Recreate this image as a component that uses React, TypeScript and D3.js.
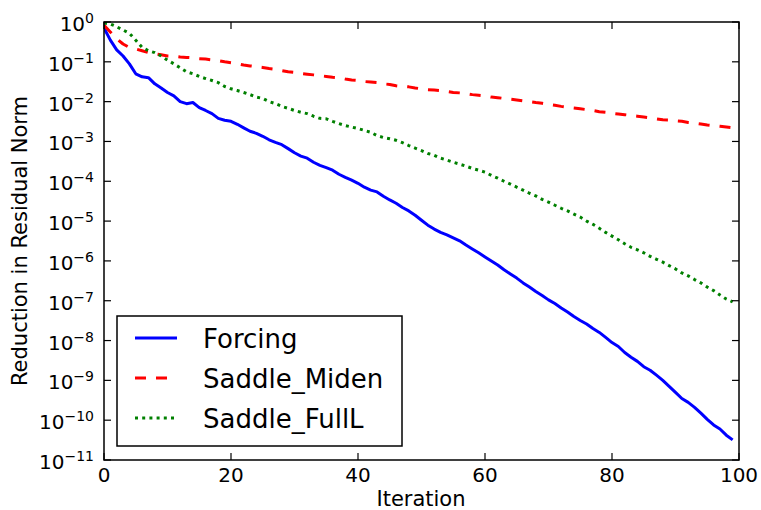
import React from "react";
import * as d3 from "d3";

const iterations: number[] = Array.from({ length: 100 }, (_, i) => i);

const forcing: number[] = [
  7.1e-1, 3.5e-1, 2.0e-1, 1.4e-1, 8.9e-2, 5.0e-2, 4.2e-2, 4.0e-2, 2.8e-2, 2.2e-2,
  1.7e-2, 1.4e-2, 1.0e-2, 8.9e-3, 9.5e-3, 7.1e-3, 6.0e-3, 5.0e-3, 3.8e-3, 3.4e-3,
  3.2e-3, 2.7e-3, 2.2e-3, 1.8e-3, 1.6e-3, 1.35e-3, 1.1e-3, 9.5e-4, 8.3e-4, 6.6e-4,
  5.2e-4, 4.3e-4, 3.8e-4, 3.0e-4, 2.5e-4, 2.2e-4, 1.9e-4, 1.5e-4, 1.26e-4, 1.07e-4,
  8.9e-5, 7.1e-5, 6.0e-5, 5.4e-5, 4.2e-5, 3.4e-5, 2.8e-5, 2.2e-5, 1.8e-5, 1.4e-5,
  1.05e-5, 7.9e-6, 6.3e-6, 5.2e-6, 4.5e-6, 3.8e-6, 3.2e-6, 2.5e-6, 2.0e-6, 1.6e-6,
  1.26e-6, 1.0e-6, 7.9e-7, 6.0e-7, 4.7e-7, 3.7e-7, 2.8e-7, 2.2e-7, 1.7e-7, 1.35e-7,
  1.05e-7, 8.5e-8, 6.6e-8, 5.2e-8, 4.0e-8, 3.2e-8, 2.6e-8, 2.0e-8, 1.6e-8, 1.2e-8,
  8.9e-9, 7.1e-9, 5.0e-9, 3.8e-9, 3.0e-9, 2.2e-9, 1.8e-9, 1.35e-9, 1.0e-9, 7.1e-10,
  5.0e-10, 3.5e-10, 2.8e-10, 2.1e-10, 1.5e-10, 1.05e-10, 7.6e-11, 6.0e-11, 4.2e-11, 3.2e-11,
];

const saddleMiden: number[] = [
  8.3e-1, 5.6e-1, 3.8e-1, 2.8e-1, 2.3e-1, 2.1e-1, 1.9e-1, 1.7e-1, 1.6e-1, 1.5e-1,
  1.4e-1, 1.38e-1, 1.32e-1, 1.29e-1, 1.26e-1, 1.2e-1, 1.17e-1, 1.12e-1, 1.07e-1, 1.0e-1,
  9.5e-2, 8.9e-2, 8.3e-2, 7.9e-2, 7.6e-2, 7.2e-2, 6.8e-2, 6.5e-2, 6.0e-2, 5.6e-2,
  5.4e-2, 5.1e-2, 4.9e-2, 4.7e-2, 4.5e-2, 4.3e-2, 4.1e-2, 4.0e-2, 3.7e-2, 3.5e-2,
  3.4e-2, 3.2e-2, 3.1e-2, 3.0e-2, 2.8e-2, 2.7e-2, 2.5e-2, 2.4e-2, 2.35e-2, 2.2e-2,
  2.1e-2, 2.0e-2, 1.95e-2, 1.9e-2, 1.8e-2, 1.7e-2, 1.66e-2, 1.6e-2, 1.5e-2, 1.45e-2,
  1.4e-2, 1.3e-2, 1.26e-2, 1.2e-2, 1.15e-2, 1.1e-2, 1.05e-2, 1.0e-2, 9.5e-3, 9.1e-3,
  8.5e-3, 8.1e-3, 7.6e-3, 7.2e-3, 6.9e-3, 6.6e-3, 6.3e-3, 6.0e-3, 5.6e-3, 5.4e-3,
  5.1e-3, 4.9e-3, 4.7e-3, 4.5e-3, 4.3e-3, 4.1e-3, 3.9e-3, 3.7e-3, 3.5e-3, 3.45e-3,
  3.3e-3, 3.2e-3, 3.0e-3, 2.9e-3, 2.75e-3, 2.6e-3, 2.5e-3, 2.4e-3, 2.3e-3, 2.2e-3,
];

const saddleFullL: number[] = [
  9.5e-1, 8.9e-1, 7.6e-1, 6.3e-1, 5.2e-1, 3.5e-1, 2.3e-1, 1.9e-1, 1.7e-1, 1.4e-1,
  1.1e-1, 8.9e-2, 7.1e-2, 5.6e-2, 5.0e-2, 4.3e-2, 3.8e-2, 3.4e-2, 3.0e-2, 2.4e-2,
  2.1e-2, 1.9e-2, 1.7e-2, 1.5e-2, 1.3e-2, 1.2e-2, 1.0e-2, 8.9e-3, 7.6e-3, 6.8e-3,
  6.0e-3, 5.4e-3, 5.0e-3, 4.3e-3, 3.8e-3, 3.7e-3, 3.2e-3, 2.8e-3, 2.5e-3, 2.3e-3,
  2.1e-3, 1.9e-3, 1.7e-3, 1.4e-3, 1.26e-3, 1.17e-3, 1.07e-3, 9.3e-4, 7.9e-4, 6.8e-4,
  5.9e-4, 5.0e-4, 4.5e-4, 3.8e-4, 3.4e-4, 3.0e-4, 2.7e-4, 2.4e-4, 2.1e-4, 1.9e-4,
  1.7e-4, 1.4e-4, 1.2e-4, 1.0e-4, 8.5e-5, 7.1e-5, 6.0e-5, 5.0e-5, 4.3e-5, 3.5e-5,
  3.0e-5, 2.5e-5, 2.1e-5, 1.8e-5, 1.5e-5, 1.26e-5, 1.0e-5, 8.3e-6, 6.6e-6, 5.2e-6,
  4.2e-6, 3.4e-6, 2.7e-6, 2.2e-6, 1.9e-6, 1.6e-6, 1.3e-6, 1.1e-6, 9.3e-7, 7.6e-7,
  6.3e-7, 5.0e-7, 4.2e-7, 3.4e-7, 2.8e-7, 2.2e-7, 1.8e-7, 1.4e-7, 1.1e-7, 9.3e-8,
];

const xTicks: number[] = [0, 20, 40, 60, 80, 100];
const yTickExponents: number[] = [0, -1, -2, -3, -4, -5, -6, -7, -8, -9, -10, -11];
const seriesNames: string[] = ["Forcing", "Saddle_Miden", "Saddle_FullL"];

const W = 761;
const H = 510;
const L = 104;
const R = 739;
const T = 22;
const B = 460;
const FONT = "DejaVu Sans, sans-serif";

export default function App() {
  const x = d3.scaleLinear().domain([0, 100]).range([L, R]);
  const y = d3.scaleLog().domain([1e-11, 1]).range([B, T]);
  const line = d3
    .line<number>()
    .x((_, i) => x(iterations[i]))
    .y((d) => y(d));

  const styles = [
    { data: forcing, color: "#0000ff", dash: undefined as string | undefined, width: 3 },
    { data: saddleMiden, color: "#ff0000", dash: "11,10", width: 3 },
    { data: saddleFullL, color: "#008000", dash: "3,4.2", width: 3 },
  ];

  const tickLen = 7;
  const legendX = 117;
  const legendY = 316;
  const legendW = 285;
  const legendH = 130;
  const rowY = [338, 378, 418];

  return (
    <svg
      width={W}
      height={H}
      style={{ position: "absolute", left: 0, top: 0, background: "#fff" }}
      fontFamily={FONT}
    >
      <rect x={0} y={0} width={W} height={H} fill="#fff" />
      <defs>
        <clipPath id="plotclip">
          <rect x={L} y={T} width={R - L} height={B - T} />
        </clipPath>
      </defs>
      <g clipPath="url(#plotclip)">
        {styles.map((s, k) => (
          <path
            key={k}
            d={line(s.data) || ""}
            fill="none"
            stroke={s.color}
            strokeWidth={s.width}
            strokeDasharray={s.dash}
            strokeLinejoin="round"
          />
        ))}
      </g>
      {xTicks.map((t) => (
        <g key={"xt" + t}>
          <line x1={x(t)} x2={x(t)} y1={B} y2={B - tickLen} stroke="#000" strokeWidth={1.2} />
          <line x1={x(t)} x2={x(t)} y1={T} y2={T + tickLen} stroke="#000" strokeWidth={1.2} />
          <text x={x(t)} y={482} fontSize={20} textAnchor="middle" fill="#000">
            {t}
          </text>
        </g>
      ))}
      {yTickExponents.map((e) => {
        const ty = y(Math.pow(10, e));
        return (
          <g key={"yt" + e}>
            <line x1={L} x2={L + tickLen} y1={ty} y2={ty} stroke="#000" strokeWidth={1.2} />
            <line x1={R} x2={R - tickLen} y1={ty} y2={ty} stroke="#000" strokeWidth={1.2} />
            <text x={94} y={ty + 9} fontSize={20} textAnchor="end" fill="#000">
              10
              <tspan dy={-8} fontSize={14}>
                {e < 0 ? "\u2212" + Math.abs(e) : String(e)}
              </tspan>
            </text>
          </g>
        );
      })}
      <rect x={L} y={T} width={R - L} height={B - T} fill="none" stroke="#000" strokeWidth={1.5} />
      <text x={421} y={506} fontSize={21} textAnchor="middle" fill="#000">
        Iteration
      </text>
      <text
        transform={`translate(27,${(T + B) / 2}) rotate(-90)`}
        fontSize={21}
        textAnchor="middle"
        fill="#000"
      >
        Reduction in Residual Norm
      </text>
      <rect
        x={legendX}
        y={legendY}
        width={legendW}
        height={legendH}
        fill="#fff"
        stroke="#000"
        strokeWidth={1.5}
      />
      {seriesNames.map((n, k) => (
        <g key={n}>
          <line
            x1={135}
            x2={177}
            y1={rowY[k]}
            y2={rowY[k]}
            stroke={styles[k].color}
            strokeWidth={styles[k].width}
            strokeDasharray={styles[k].dash}
          />
          <text x={203} y={rowY[k] + 9.5} fontSize={26} fill="#000">
            {n}
          </text>
        </g>
      ))}
    </svg>
  );
}
